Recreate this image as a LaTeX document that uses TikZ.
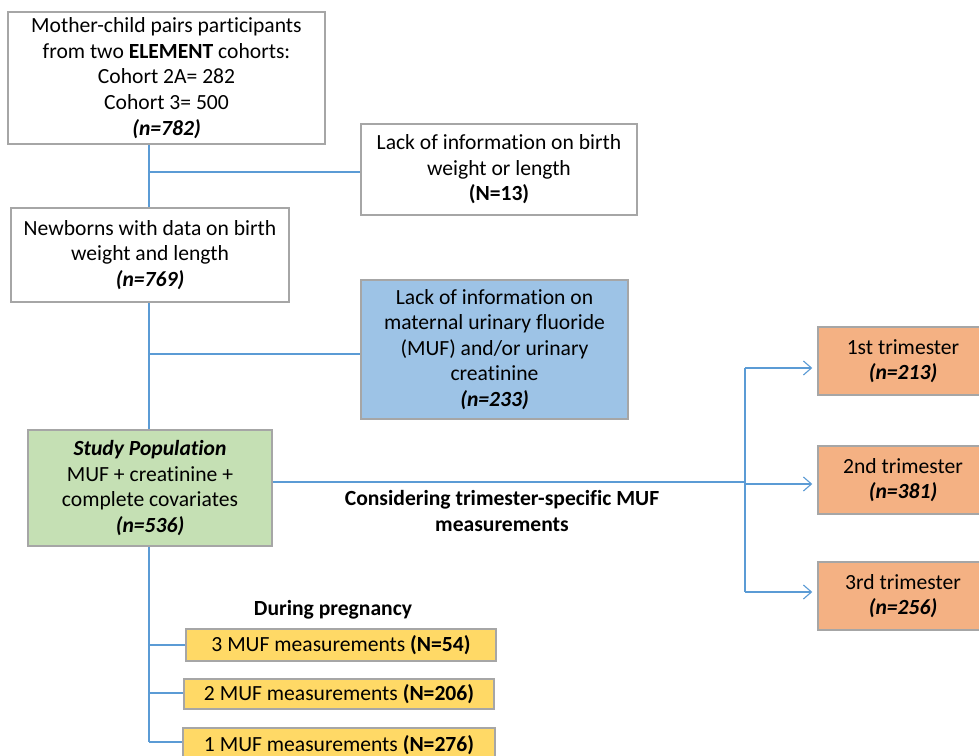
\documentclass[tikz,border=0pt]{standalone}
\usepackage{fontspec}
\setmainfont[Ligatures=NoCommon]{Carlito}
\usetikzlibrary{arrows.meta}
\definecolor{lineblue}{HTML}{5B9BD5}
\definecolor{boxgray}{HTML}{A6A6A6}
\definecolor{bluefill}{HTML}{9DC3E6}
\definecolor{greenfill}{HTML}{C5E0B4}
\definecolor{orangefill}{HTML}{F4B183}
\definecolor{yellowfill}{HTML}{FFD966}
\tikzset{
  box/.style={draw=boxgray, line width=1.5pt, align=center, inner sep=0pt,
    font=\fontsize{21.6}{25.6}\selectfont, text=black},
  conn/.style={draw=lineblue, line width=1.3pt},
  arr/.style={conn, -{Straight Barb[length=8pt,width=14pt,line width=1.1pt]}},
  lbl/.style={font=\fontsize{21.6}{26.5}\selectfont\bfseries, align=center, inner sep=0pt}
}
\begin{document}
\begin{tikzpicture}[x=1pt,y=-1pt]
\useasboundingbox (0,0) rectangle (979,755);
\clip (0,0) rectangle (979,755);
\fill[white] (0,0) rectangle (979,755);

\node[box, minimum width=317pt, minimum height=132pt] (top) at (166.5,78)
  {Mother-child pairs participants\\from two \textbf{ELEMENT} cohorts:\\Cohort 2A= 282\\Cohort 3= 500\\\textbf{\textit{(n=782)}}};
\node[box, minimum width=276pt, minimum height=91pt] (lack1) at (499,169.5)
  {Lack of information on birth\\weight or length\\\textbf{(N=13)}};
\node[box, minimum width=278pt, minimum height=94pt] (newb) at (150,255)
  {Newborns with data on birth\\weight and length\\\textbf{\textit{(n=769)}}};
\node[box, fill=bluefill, minimum width=267pt, minimum height=139pt] (lack2) at (494.5,349.5)
  {Lack of information on\\maternal urinary fluoride\\(MUF) and/or urinary\\creatinine\\\textbf{\textit{(n=233)}}};
\node[box, fill=greenfill, minimum width=244pt, minimum height=116pt] (study) at (150,488)
  {\textbf{\textit{Study Population}}\\MUF + creatinine +\\complete covariates\\\textbf{\textit{(n=536)}}};

\node[box, fill=orangefill, minimum width=170pt, minimum height=68pt] (t1) at (903,361)
  {1st trimester\\\textbf{\textit{(n=213)}}};
\node[box, fill=orangefill, minimum width=170pt, minimum height=68pt] (t2) at (903,480)
  {2nd trimester\\\textbf{\textit{(n=381)}}};
\node[box, fill=orangefill, minimum width=170pt, minimum height=68pt] (t3) at (903,596)
  {3rd trimester\\\textbf{\textit{(n=256)}}};

\node[box, fill=yellowfill, minimum width=310pt, minimum height=32pt] (y3) at (341,645)
  {3 MUF measurements \textbf{(N=54)}};
\node[box, fill=yellowfill, minimum width=310pt, minimum height=30pt] (y2) at (339,694)
  {2 MUF measurements \textbf{(N=206)}};
\node[box, fill=yellowfill, minimum width=312pt, minimum height=34pt] (y1) at (339,745)
  {1 MUF measurements \textbf{(N=276)}};

\node[lbl] (preg) at (333,610) {During pregnancy};
\node[lbl] (cons) at (502,511) {Considering trimester-specific MUF\\measurements};

% connectors
\coordinate (j1) at (149,172);
\coordinate (j2) at (149,354);
\coordinate (j3) at (149,742);
\coordinate (b1) at (745,482);
\coordinate (b1top) at (745,368);
\coordinate (b1bot) at (745,592);

\draw[conn] (top.south -| j1) -- (newb.north -| j1);
\draw[conn] (j1) -- (lack1.west |- j1);
\draw[conn] (newb.south -| j2) -- (study.north -| j2);
\draw[conn] (j2) -- (lack2.west |- j2);
\draw[conn] (study.south -| j3) -- (j3);
\draw[conn] (149,645) -- (y3.west |- 0,645);
\draw[conn] (149,693) -- (y2.west |- 0,693);
\draw[conn] (j3) -- (y1.west |- j3);

\draw[conn] (study.east |- b1) -- (b1);
\draw[conn] (b1top) -- (b1bot);
\draw[arr] (b1top) -- ([xshift=-5pt]t1.west |- b1top);
\draw[arr] (745,484) -- ([xshift=-5pt]t2.west |- 0,484);
\draw[arr] (b1bot) -- ([xshift=-5pt]t3.west |- b1bot);
\end{tikzpicture}
\end{document}
